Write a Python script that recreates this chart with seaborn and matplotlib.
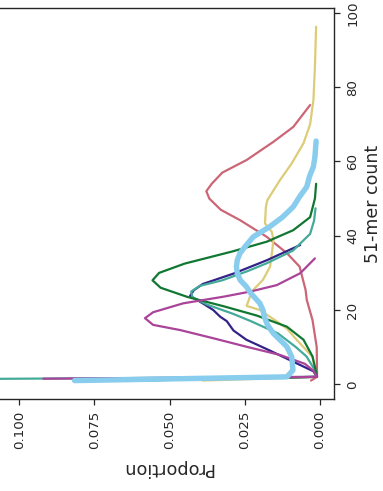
import matplotlib
matplotlib.use("Agg")
import matplotlib.pyplot as plt
import pandas as pd
import seaborn as sns

# 51-mer count spectra: count (y) vs proportion of k-mers (x), one series per sample
red_count = [1, 2, 3, 10, 17.3, 22.7, 25.4, 31.7, 35.3, 39.7, 44.2, 47, 50, 52, 54, 57, 60.4, 65.3, 69.3, 75.2]
red_prop = [0.003, 0.001, 0.001, 0.0011, 0.0025, 0.0044, 0.0048, 0.0068, 0.011, 0.0177, 0.0266, 0.033, 0.0368, 0.0378, 0.036, 0.0325, 0.0244, 0.0155, 0.0089, 0.0033]

yellow_count = [1, 2, 3.8, 7.4, 12, 15, 17, 20, 21.1, 23.6, 25.4, 28.1, 31.7, 35.3, 38.8, 41, 43.3, 47.8, 49.6, 55, 59.5, 64.9, 70, 76.5, 85.5, 96.3]
yellow_prop = [0.039, 0.0012, 0.0017, 0.0025, 0.0078, 0.011, 0.0145, 0.02, 0.0244, 0.0233, 0.0222, 0.019, 0.0166, 0.016, 0.0155, 0.016, 0.0183, 0.018, 0.0175, 0.0133, 0.0094, 0.0055, 0.0033, 0.0022, 0.0017, 0.0013]

indigo_count = [1, 2, 3.5, 6.5, 9.2, 12, 14.5, 17, 18.2, 20, 21.8, 23.8, 25.3, 27, 29.8, 33.4, 37.5]
indigo_prop = [0.07, 0.001, 0.0022, 0.010, 0.017, 0.0245, 0.0288, 0.031, 0.0332, 0.0355, 0.039, 0.0432, 0.042, 0.039, 0.0288, 0.0177, 0.0066]

teal_count = [1, 2, 3.5, 7.5, 10, 13.7, 17, 19, 21.5, 23.5, 25, 26.5, 28, 30.5, 32.6, 36, 40.5, 44, 47.4]
teal_prop = [0.2, 0.001, 0.0015, 0.0045, 0.008, 0.014, 0.023, 0.029, 0.0377, 0.0425, 0.0428, 0.040, 0.0325, 0.024, 0.0177, 0.009, 0.0033, 0.002, 0.0015]

green_count = [1, 2, 3, 4, 7.5, 12, 15.5, 18.5, 21, 23.5, 26, 28, 30, 32.5, 35.8, 38.4, 41.5, 45, 50, 54]
green_prop = [0.06, 0.001, 0.0012, 0.0015, 0.0025, 0.0055, 0.011, 0.021, 0.032, 0.044, 0.053, 0.0557, 0.0535, 0.045, 0.029, 0.0177, 0.0089, 0.0033, 0.0017, 0.0013]

magenta_count = [1.5, 2, 3.5, 5.5, 7.9, 10.1, 12.4, 14.6, 16, 17.8, 19.4, 21.8, 23.6, 25, 26.7, 29.9, 33.9]
magenta_prop = [0.092, 0.001, 0.002, 0.005, 0.0133, 0.0244, 0.0355, 0.0465, 0.0555, 0.0582, 0.0555, 0.0455, 0.032, 0.023, 0.0144, 0.0066, 0.0017]

blue_count = [1, 2, 3.8, 7.4, 10.1, 13.7, 16, 18.2, 20, 21.8, 22.7, 24.5, 26.3, 28, 29.9, 31.7, 33.5, 35.3, 37, 39.7, 42.4, 45, 47.8, 50.5, 53.2, 56, 58.6, 61.3, 65.5]
blue_prop = [0.0816, 0.011, 0.009, 0.0094, 0.011, 0.0155, 0.0175, 0.0185, 0.019, 0.020, 0.021, 0.023, 0.0245, 0.0265, 0.0275, 0.0278, 0.0275, 0.0266, 0.025, 0.0222, 0.0168, 0.0125, 0.0089, 0.0068, 0.0044, 0.0035, 0.0022, 0.0017, 0.0013]

count_ticks = [0, 20, 40, 60, 80, 100]
prop_ticks = [0.0, 0.025, 0.05, 0.075, 0.1]

sns.set_style("ticks")

fig = plt.figure(figsize=(3.83, 4.91), dpi=100)
ax = fig.add_axes([0.0, 0.1874, 0.8721, 0.7953])

series = [
    (red_count, red_prop, "#CC6677", 1.6),
    (yellow_count, yellow_prop, "#DDCC77", 1.6),
    (indigo_count, indigo_prop, "#332288", 1.6),
    (teal_count, teal_prop, "#44AA99", 1.6),
    (green_count, green_prop, "#117733", 1.6),
    (magenta_count, magenta_prop, "#AA4499", 1.6),
    (blue_count, blue_prop, "#88CCEE", 3.9),
]

for counts, props, color, lw in series:
    df = pd.DataFrame({"count": counts, "proportion": props})
    sns.lineplot(data=df, x="proportion", y="count", orient="y", sort=False,
                 estimator=None, color=color, linewidth=lw, ax=ax)

ax.set_xlim(0.1064, -0.00465)
ax.set_ylim(-3.96, 101.2)

ax.yaxis.tick_right()
ax.yaxis.set_label_position("right")
ax.spines["left"].set_visible(False)
for side in ("top", "right", "bottom"):
    ax.spines[side].set_visible(True)
    ax.spines[side].set_linewidth(1.0)
    ax.spines[side].set_color("#262626")

ax.set_xticks(prop_ticks)
ax.set_xticklabels([f"{t:.3f}" for t in prop_ticks], rotation=90)
ax.set_yticks(count_ticks)
ax.set_yticklabels([str(t) for t in count_ticks], rotation=90, va="center")

ax.tick_params(axis="x", length=4.3, width=0.9, pad=4.0, labelsize=9.6, colors="#262626")
ax.tick_params(axis="y", length=4.3, width=0.9, pad=4.5, labelsize=9.6, colors="#262626",
               left=False, right=True)

ax.set_xlabel("Proportion", fontsize=12.7, rotation=180, labelpad=7, color="#262626")
ax.set_ylabel("51-mer count", fontsize=12.5, rotation=90, labelpad=3.5, color="#262626")

fig.savefig("out.png", dpi=100)
